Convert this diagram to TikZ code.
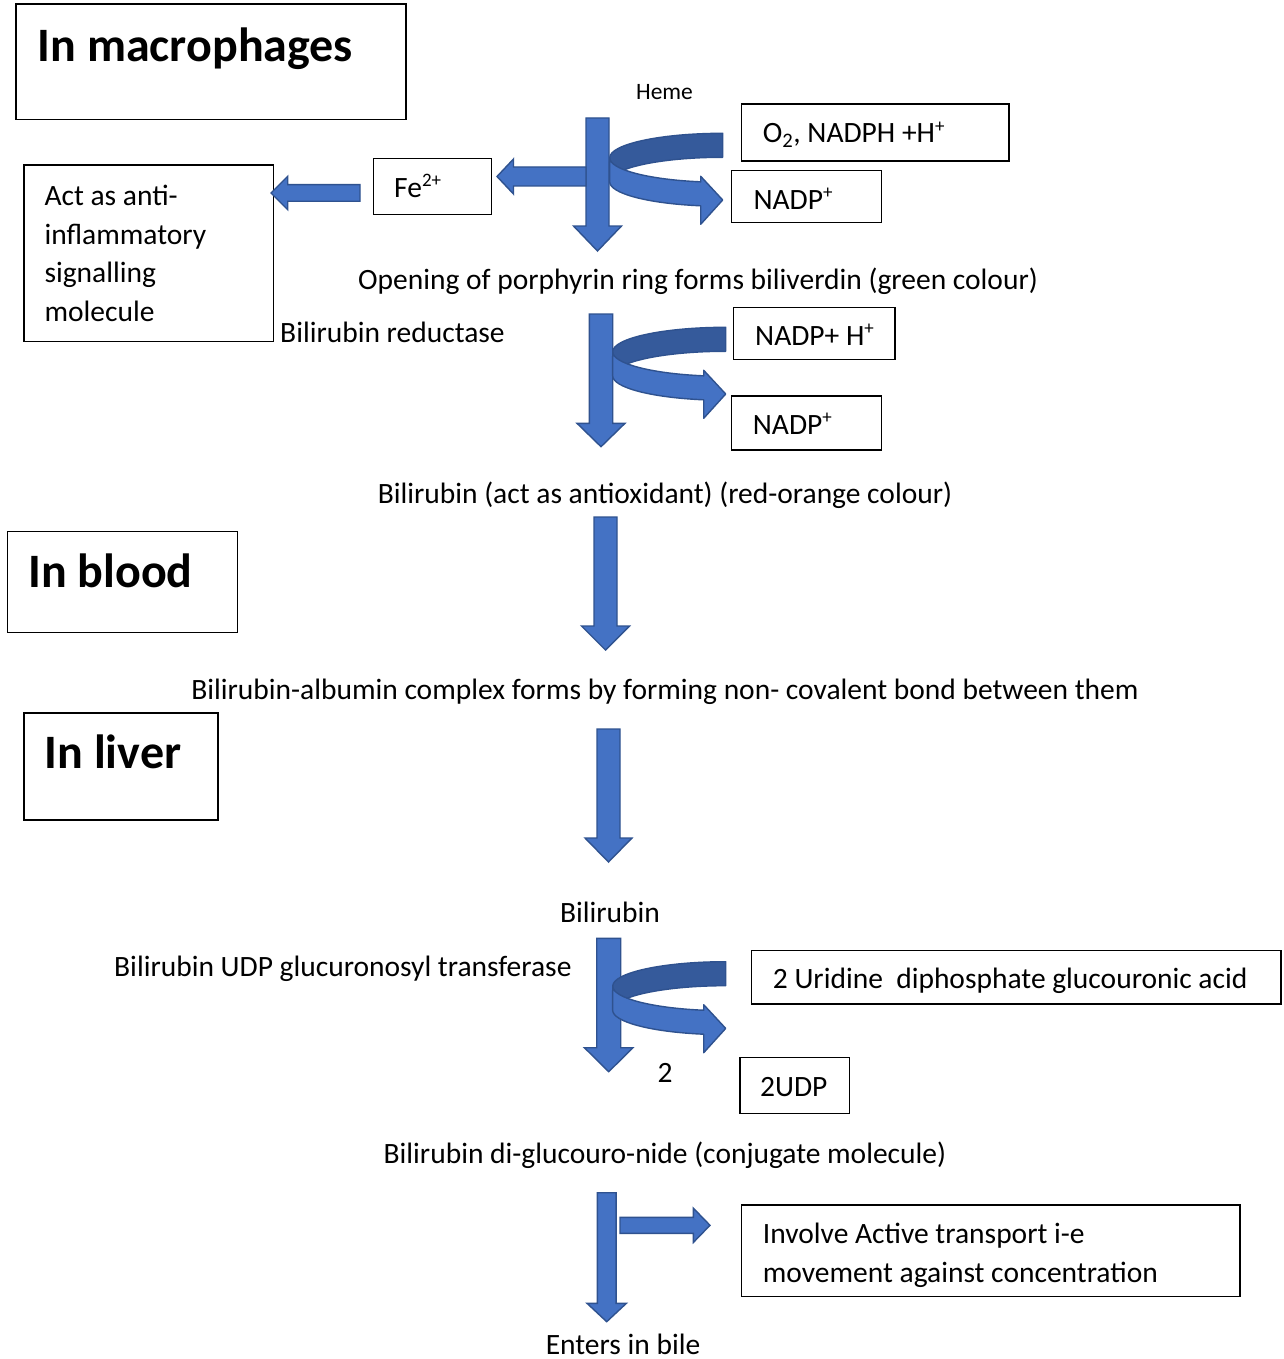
\documentclass[tikz,border=0pt]{standalone}
\usepackage{fontspec}
\setmainfont{Carlito}
\definecolor{arrfill}{HTML}{4472C4}
\definecolor{arrdark}{HTML}{355A9B}
\definecolor{arrline}{HTML}{2F528F}
\tikzset{
  txt/.style={font=\fontsize{29.5}{35}\selectfont, inner sep=0pt},
  smalltxt/.style={font=\fontsize{23.5}{28}\selectfont, inner sep=0pt},
  ttl/.style={font=\fontsize{48}{56}\selectfont\bfseries, inner sep=0pt},
  boxst/.style={draw=black, line width=1.3pt},
  blk/.style={fill=arrfill, draw=arrline, line width=1.4pt, line join=miter},
  blkdark/.style={fill=arrdark, draw=arrline, line width=1.4pt, line join=round}
}
\newcommand{\sups}[1]{\raisebox{0.36em}{\fontsize{19}{20}\selectfont #1}}
% down block arrow: xc, top, tip, body half width, head half width, head length
\newcommand{\DownBlock}[6]{%
  \filldraw[blk] (#1-#4,#2) -- (#1+#4,#2) -- (#1+#4,#3-#6) -- (#1+#5,#3-#6)
    -- (#1,#3) -- (#1-#5,#3-#6) -- (#1-#4,#3-#6) -- cycle;}
% left block arrow: yc, start (right), tip, body half, head half, head length
\newcommand{\LeftBlock}[6]{%
  \filldraw[blk] (#2,#1-#4) -- (#2,#1+#4) -- (#3+#6,#1+#4) -- (#3+#6,#1+#5)
    -- (#3,#1) -- (#3+#6,#1-#5) -- (#3+#6,#1-#4) -- cycle;}
% right block arrow: yc, start (left), tip, body half, head half, head length
\newcommand{\RightBlock}[6]{%
  \filldraw[blk] (#2,#1-#4) -- (#2,#1+#4) -- (#3-#6,#1+#4) -- (#3-#6,#1+#5)
    -- (#3,#1) -- (#3-#6,#1-#5) -- (#3-#6,#1-#4) -- cycle;}
% curved ribbon arrow: right x, top y
\newcommand{\CurvedBlock}[2]{%
  \filldraw[blkdark] (#1,#2) arc[start angle=-90, end angle=-180, x radius=113, y radius=24.5]
    -- (#1-113,#2+48.5) arc[start angle=-180, end angle=-90, x radius=113, y radius=24.5] -- cycle;
  \filldraw[blk, line join=round] (#1-113,#2+24.5) arc[start angle=180, end angle=101.2, x radius=113, y radius=24.5]
    -- (#1-22,#2+43) -- (#1,#2+66.7) -- (#1-22,#2+91) -- (#1-22,#2+72.5)
    arc[start angle=101.2, end angle=180, x radius=113, y radius=24.5] -- cycle;}
\begin{document}
\begin{tikzpicture}[x=1pt,y=-1pt]
\useasboundingbox (0,0) rectangle (1284,1359);
\fill[white] (0,0) rectangle (1284,1359);

% ---------- boxes ----------
\draw[boxst] (16,4) rectangle (406,119.3);
\draw[boxst] (24,165) rectangle (273.3,341.7);
\draw[boxst] (373.3,158.3) rectangle (491.7,214.3);
\draw[boxst] (741.7,104) rectangle (1009,161);
\draw[boxst] (731.7,170.7) rectangle (881.7,222.7);
\draw[boxst] (733.3,307.3) rectangle (895,359.3);
\draw[boxst] (731.7,396) rectangle (881.7,450);
\draw[boxst] (7.3,531.7) rectangle (237.3,632.5);
\draw[boxst] (24,713) rectangle (218,820);
\draw[boxst] (751.7,950.7) rectangle (1281,1004);
\draw[boxst] (740,1057.3) rectangle (849.3,1113.3);
\draw[boxst] (741.7,1205) rectangle (1240,1296.7);

% ---------- block arrows ----------
\DownBlock{597.5}{118}{251}{11.5}{24}{25}
\LeftBlock{176.5}{586}{497}{9.5}{17.5}{16.5}
\LeftBlock{193}{360}{271}{8.3}{16.7}{16.7}
\CurvedBlock{722.7}{133.3}

\DownBlock{601}{314}{446.7}{11.7}{24}{23.4}
\CurvedBlock{725.7}{327.3}

\DownBlock{605.5}{517}{650}{11.5}{24}{24}
\DownBlock{608.5}{729}{862}{11.5}{23.5}{24}

\DownBlock{608.7}{938.3}{1071.7}{12}{24.3}{24}
\CurvedBlock{725.7}{961.7}

\DownBlock{606.7}{1192.7}{1321.7}{9.4}{19.7}{18.4}
\RightBlock{1225.3}{620}{710}{8}{17.2}{16.7}

% ---------- texts ----------
\node[ttl, anchor=base west] (tmac) at (37.5,62) {In macrophages};
\node[smalltxt, anchor=base] (theme) at (664.5,100) {Heme};
\node[txt, anchor=base west] (to2) at (762.7,143) {O\textsubscript{2}, NADPH +H\sups{+}};
\node[txt, anchor=base west] (tnadp1) at (753.3,209.5) {NADP\sups{+}};
\node[txt, anchor=base west] (tfe) at (394,197) {Fe\sups{2+}};
\node[txt, anchor=base west] (tact1) at (44.3,205.5) {Act as anti-};
\node[txt, anchor=base west] (tact2) at (44.3,244) {inflammatory};
\node[txt, anchor=base west] (tact3) at (44.3,282.5) {signalling};
\node[txt, anchor=base west] (tact4) at (44.3,321) {molecule};
\node[txt, anchor=base] (topen) at (698,289) {Opening of porphyrin ring forms biliverdin (green colour)};
\node[txt, anchor=base west] (tred) at (280,342) {Bilirubin reductase};
\node[txt, anchor=base west] (tnadph) at (755,345) {NADP+ H\sups{+}};
\node[txt, anchor=base west] (tnadp2) at (752.7,434.5) {NADP\sups{+}};
\node[txt, anchor=base] (tbili1) at (665,503) {Bilirubin (act as antioxidant) (red-orange colour)};
\node[ttl, anchor=base west] (tblood) at (28,587) {In blood};
\node[txt, anchor=base] (talb) at (665,699) {Bilirubin-albumin complex forms by forming non- covalent bond between them};
\node[ttl, anchor=base west] (tliver) at (44.5,768) {In liver};
\node[txt, anchor=base] (tbili2) at (610,922) {Bilirubin};
\node[txt, anchor=base west] (tudp) at (114,976) {Bilirubin UDP glucuronosyl transferase};
\node[txt, anchor=base west] (turid) at (772.7,988.8) {2 Uridine\ \ diphosphate glucouronic acid};
\node[txt, anchor=base] (ttwo) at (665,1082.5) {2};
\node[txt, anchor=base west] (t2udp) at (760,1096.2) {2UDP};
\node[txt, anchor=base] (tconj) at (665,1163) {Bilirubin di-glucouro-nide (conjugate molecule)};
\node[txt, anchor=base west] (tinv1) at (762.7,1243.5) {Involve Active transport i-e};
\node[txt, anchor=base west] (tinv2) at (762.7,1282) {movement against concentration};
\node[txt, anchor=base] (tbile) at (623,1354) {Enters in bile};
\end{tikzpicture}
\end{document}
